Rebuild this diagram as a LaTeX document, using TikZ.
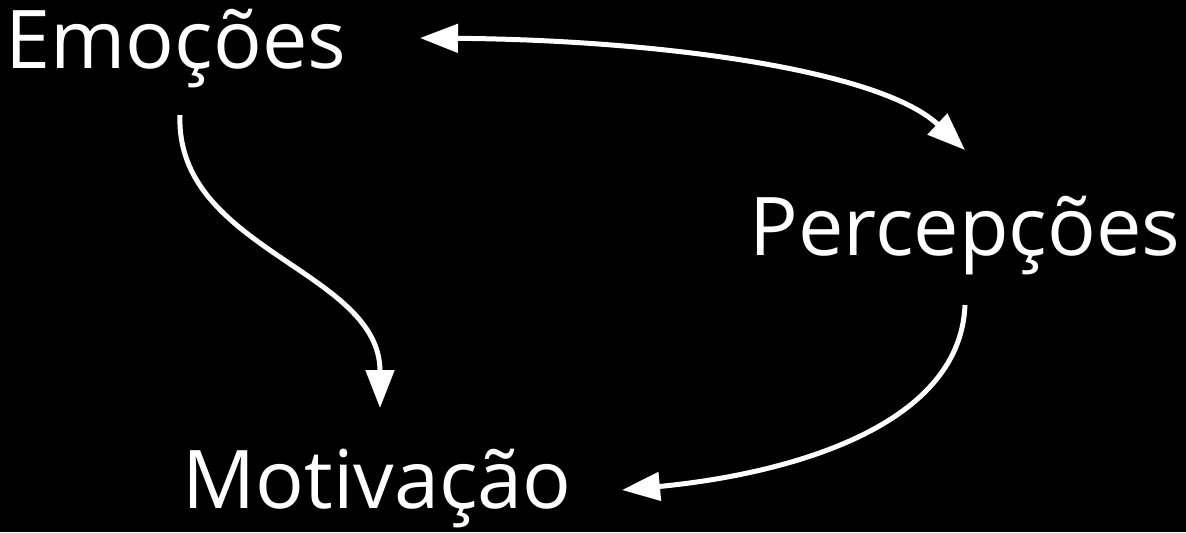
\documentclass[tikz,border=0pt]{standalone}
\usepackage{fontspec}
\setmainfont{Open Sans}
\usetikzlibrary{arrows.meta}

\begin{document}
\begin{tikzpicture}[x=0.5pt, y=-0.5pt, >={Triangle[length=19pt, width=14pt]},
    word/.style={text=white, font=\fontsize{40.5}{46}\selectfont, inner sep=0pt, anchor=base west},
    link/.style={draw=white, line width=2.5pt}]
        \fill[black] (0,0) rectangle (1186,532);
        \useasboundingbox (0,0) rectangle (1186,532);

        \node[word] (emo) at (5,68) {Emoções};
        \node[word] (perc) at (749,255) {Percepções};
        \node[word] (mot) at (182,508) {Motivação};

        % ends of the arrows
        \coordinate (emoR) at (420,38);
        \coordinate (emoB) at (180,115);
        \coordinate (percT) at (965,150);
        \coordinate (percB) at (965,305);
        \coordinate (motT) at (380,408);
        \coordinate (motR) at (622,490);

        \draw[link, <->] (emoR) .. controls (660,40) and (880,70) .. (percT);
        \draw[link, ->] (emoB) .. controls (175,250) and (380,270) .. (motT);
        \draw[link, ->] (percB) .. controls (960,430) and (780,475) .. (motR);
    \end{tikzpicture}
\end{document}
